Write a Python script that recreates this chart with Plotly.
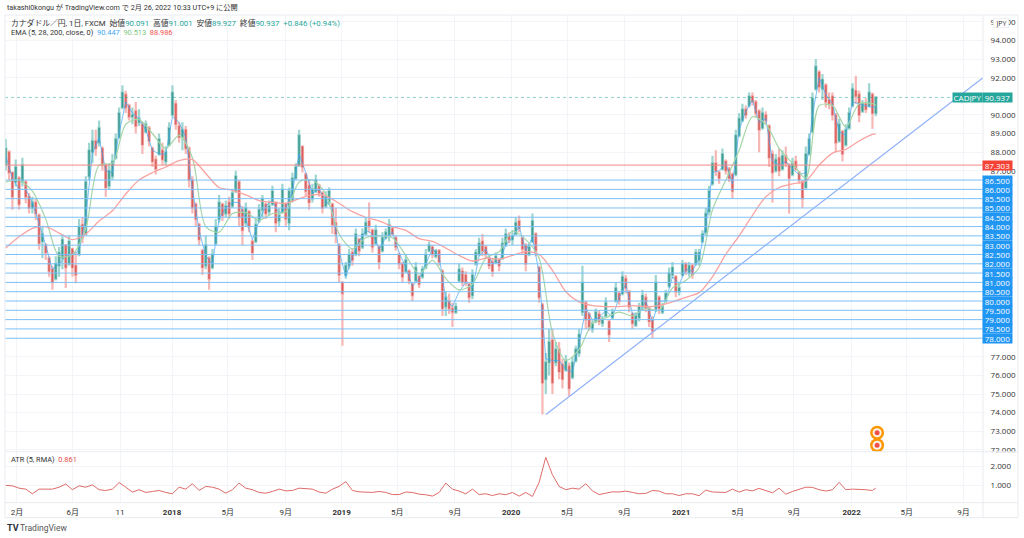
import pandas as pd
import plotly.graph_objects as go

# ---------- data ----------
opens = [87.3,88.0,86.9,86.4,86.6,86.4,86.4,85.6,85.0,85.3,84.6,83.2,83.0,82.3,81.7,81.2,81.9,82.3,83.0,82.0,
82.8,81.9,82.5,84.1,83.6,86.7,88.0,88.6,88.5,88.2,87.3,86.2,86.7,87.7,88.8,90.4,91.1,90.5,89.9,90.2,
89.6,89.5,89.1,89.3,88.2,87.6,87.9,88.1,87.5,88.4,90.0,90.6,89.4,88.8,89.2,88.2,86.5,85.2,84.1,82.7,
81.9,82.3,81.8,83.1,84.4,85.2,84.7,85.3,85.1,85.9,86.4,84.9,84.2,84.8,83.2,83.2,84.3,84.9,85.2,84.8,
85.2,85.3,84.3,84.8,85.2,84.2,85.4,86.6,87.3,88.3,86.8,86.2,85.5,85.9,86.2,85.8,85.1,85.3,85.2,84.2,
83.0,81.0,81.4,81.9,82.6,82.5,83.3,82.9,83.6,84.3,83.8,83.1,82.9,82.7,83.4,83.5,83.9,83.4,82.5,82.0,
81.6,81.6,80.9,81.1,81.3,81.3,81.8,82.7,82.9,82.4,82.7,81.6,79.7,80.0,79.6,79.4,81.1,81.6,81.4,80.9,
80.3,82.0,82.5,83.2,82.9,82.3,82.1,82.1,82.2,82.3,83.0,83.5,83.3,83.6,84.3,83.4,83.0,82.5,83.2,83.6,
81.8,79.8,75.8,76.7,77.9,76.7,77.4,76.6,76.3,76.5,75.9,76.8,77.2,79.4,79.9,79.3,78.5,78.9,79.3,78.8,
79.2,78.9,79.1,80.0,80.4,80.4,81.2,80.5,79.3,78.7,79.1,79.7,80.2,79.6,79.0,79.6,80.2,79.4,80.0,80.8,
81.4,81.3,80.5,81.4,82.0,81.5,81.9,82.0,82.2,83.2,83.7,84.8,86.3,87.4,86.9,87.1,87.5,87.1,86.8,86.8,
88.9,89.7,90.3,90.5,91.0,90.7,90.2,89.3,90.0,89.4,87.9,87.0,87.7,87.1,87.8,87.3,86.8,87.5,86.9,86.4,
86.1,87.9,89.1,91.4,92.3,91.4,91.6,90.8,91.0,90.0,88.6,89.1,88.4,89.3,90.5,91.3,91.1,90.2,90.6,90.5,
91.1,90.09]
highs = [88.7,88.1,86.9,87.6,86.7,87.7,86.5,85.8,85.6,85.5,84.7,84.0,83.1,82.4,81.9,82.4,82.9,83.6,83.0,83.5,
82.8,82.6,84.4,84.5,86.7,88.5,89.2,89.2,89.7,88.3,87.4,87.4,87.9,89.0,90.4,91.6,91.3,90.6,90.4,90.7,
90.3,89.6,89.7,89.4,88.3,87.8,89.0,88.5,88.3,89.6,91.6,90.8,89.6,89.6,89.4,88.3,86.7,85.3,84.2,82.8,
83.5,82.4,82.8,84.4,85.7,85.3,85.4,85.6,86.0,87.0,86.5,85.1,85.3,84.9,83.3,84.4,85.2,85.7,85.3,85.4,
86.2,85.3,85.0,86.3,85.3,86.1,86.9,87.4,89.2,88.3,86.9,86.5,86.3,86.8,86.3,85.9,85.9,86.1,85.3,85.0,
83.1,81.0,82.1,82.8,82.8,83.9,83.4,83.9,84.5,85.3,83.9,84.1,83.0,83.7,83.9,84.4,84.0,83.5,82.6,82.1,
82.5,81.7,81.0,82.1,81.4,81.9,82.8,83.2,83.0,82.8,82.8,81.7,80.5,80.4,79.9,79.9,82.0,81.8,81.6,81.0,
81.7,82.8,83.4,83.6,83.0,82.4,82.3,82.6,82.3,83.4,83.9,83.7,83.8,84.5,84.6,83.5,83.1,83.1,84.7,83.7,
81.9,79.9,77.2,78.5,78.5,77.8,77.8,76.9,77.1,76.7,77.0,77.6,78.5,81.9,80.0,79.4,79.0,79.6,79.5,79.2,
80.2,79.0,79.6,81.0,80.5,81.6,81.4,80.6,79.4,79.4,79.9,80.6,80.4,79.7,79.2,81.4,80.3,79.9,80.6,81.8,
82.1,81.4,80.9,82.2,82.1,82.1,82.0,82.8,82.8,83.8,85.0,86.2,87.8,88.1,87.0,88.2,87.6,87.2,86.9,89.2,
90.1,90.6,90.5,91.2,91.2,90.8,90.3,90.4,90.2,89.5,88.1,87.9,88.2,88.1,88.3,87.4,87.7,87.8,87.0,86.5,
88.3,89.0,91.2,93.0,92.4,92.2,91.7,91.2,91.2,90.1,89.8,89.2,89.5,90.4,91.7,92.1,91.3,90.8,90.9,91.7,
91.2,91.0]
lows = [87.0,86.5,84.9,86.15,84.9,86.15,85.25,84.7,84.7,84.35,82.75,82.3,82.2,81.3,80.6,81.1,81.3,81.7,80.7,81.9,
81.3,80.95,82.4,83.1,83.5,86.5,87.4,87.8,88.3,87.0,85.6,86.0,86.5,87.6,88.7,90.3,90.1,89.7,89.5,89.0,
89.4,87.9,89.0,88.3,87.2,86.8,87.8,87.3,87.3,88.3,89.9,89.2,88.5,88.1,87.9,86.1,84.7,84.0,83.0,81.4,
81.7,80.6,81.7,83.0,84.2,84.3,84.5,84.4,85.0,85.8,84.0,83.0,84.0,83.7,82.2,83.1,84.2,84.5,84.4,84.6,
85.1,83.7,84.0,84.7,84.0,83.8,85.3,86.5,87.2,86.9,85.6,84.9,85.3,85.8,85.6,84.7,85.0,85.2,83.6,83.1,
81.0,77.6,81.2,81.7,81.9,82.4,82.4,82.8,83.5,83.7,82.6,83.0,81.7,82.6,83.3,83.2,83.5,82.7,81.7,81.0,
81.5,80.9,80.0,81.0,80.7,81.2,81.7,82.6,82.3,82.3,81.9,79.2,79.2,79.3,78.6,79.3,81.0,80.8,80.8,79.9,
80.1,81.9,82.4,82.4,82.3,81.7,81.3,82.0,81.6,82.2,82.9,83.1,83.0,83.5,83.7,82.5,81.6,82.4,83.1,82.4,
79.9,73.9,75.0,76.0,75.0,76.5,75.8,75.3,76.2,74.9,75.8,76.7,77.0,79.2,78.5,78.4,78.3,78.8,78.7,78.6,
79.1,77.8,79.0,79.9,79.8,80.3,80.4,79.4,78.5,78.6,78.9,79.5,79.4,78.6,78.0,79.4,79.3,79.3,79.9,80.7,
81.2,80.2,80.3,81.3,81.4,81.3,81.2,81.9,81.9,83.1,83.5,84.6,86.2,86.7,86.3,87.0,86.8,86.4,85.5,86.7,
88.8,89.6,89.8,90.4,90.5,89.9,88.0,89.2,89.5,87.2,85.3,86.9,86.7,87.0,87.2,84.7,86.7,87.0,86.3,85.0,
86.0,87.8,89.0,91.3,91.2,90.8,90.4,90.3,89.7,88.0,88.5,87.5,88.3,89.2,90.4,90.6,89.6,90.1,90.1,90.4,
89.25,89.93]
closes = [88.2,86.9,85.6,87.2,85.2,87.3,85.6,85.0,85.3,84.7,83.1,83.6,82.6,81.6,81.0,82.0,82.6,83.3,81.8,83.2,
81.8,81.4,84.0,83.4,86.4,88.1,88.6,88.2,89.3,87.3,86.1,87.0,87.5,88.7,90.1,91.2,90.4,89.9,90.0,89.4,
89.8,88.4,89.5,88.6,87.5,87.1,88.7,87.6,88.0,89.3,91.2,89.5,88.8,89.2,88.2,86.5,85.0,84.4,83.3,81.8,
83.0,81.2,82.5,84.0,85.3,84.6,85.1,84.7,85.8,86.7,84.5,83.8,85.0,84.0,82.6,84.1,84.9,85.5,84.7,85.1,
85.9,84.2,84.6,86.0,84.4,85.9,86.6,87.2,88.9,87.2,85.9,85.3,86.0,86.5,85.8,85.0,85.6,85.9,84.1,83.6,
81.4,80.4,81.9,82.5,82.2,83.6,82.7,83.6,84.2,84.0,82.9,83.8,82.1,83.4,83.7,84.1,83.6,82.9,82.0,81.3,
82.2,81.1,80.3,81.8,80.9,81.7,82.5,83.0,82.5,82.7,82.1,79.6,80.2,79.6,79.4,79.7,81.7,81.0,81.0,80.2,
81.4,82.6,83.1,82.7,82.5,81.9,81.6,82.4,81.9,83.1,83.6,83.3,83.5,84.2,83.9,82.8,82.0,82.9,84.3,82.7,
80.2,75.6,76.7,77.8,75.6,77.4,76.2,75.8,76.8,75.3,76.7,77.4,78.2,81.0,79.0,78.6,78.8,79.4,78.9,79.0,
79.9,78.2,79.4,80.7,80.0,81.3,80.7,79.7,78.8,79.2,79.7,80.3,79.6,78.9,78.4,81.0,79.6,79.7,80.4,81.5,
81.8,80.5,80.7,82.0,81.6,81.9,81.4,82.6,82.6,83.6,84.7,85.9,87.4,87.0,86.6,87.9,87.0,86.6,85.9,88.9,
89.8,90.3,90.0,91.0,90.7,90.1,89.2,90.1,89.7,87.7,86.9,87.6,87.0,87.8,87.4,86.6,87.4,87.1,86.5,85.5,
87.9,88.7,90.9,92.6,91.5,91.9,90.7,90.6,90.0,88.5,89.5,87.9,89.2,90.1,91.4,91.0,90.0,90.6,90.3,91.2,
90.09,90.94]

ema5 = [87.8,86.6,86.0,86.0,85.3,84.2,83.0,81.7,82.0,82.4,82.5,82.7,84.5,87.9,88.8,87.0,86.9,89.0,90.7,90.1,
89.8,89.2,88.1,87.9,87.9,89.9,89.6,88.8,86.0,83.8,82.4,82.0,84.4,85.0,85.3,85.3,84.4,83.3,84.3,85.1,
85.4,84.7,85.0,85.9,87.9,86.9,85.8,86.0,85.4,84.9,82.7,81.3,82.4,83.2,83.8,83.6,82.8,83.4,83.7,82.6,
81.8,80.8,81.2,82.0,82.8,82.4,80.1,79.7,80.5,81.0,80.7,82.4,82.8,82.0,82.1,83.0,83.4,84.0,82.7,83.4,
81.5,76.9,76.8,76.8,76.3,76.2,77.7,79.6,79.0,79.1,79.5,79.1,80.2,80.9,79.3,79.3,80.0,78.9,80.0,80.0,
81.3,80.9,81.7,81.6,82.3,84.1,86.9,87.0,87.4,86.3,89.2,90.2,90.8,89.6,89.8,87.5,87.3,87.5,87.1,86.8,
86.9,90.0,92.0,91.1,90.6,89.1,88.9,90.7,90.6,90.5,90.4,90.447]
ema28 = [86.4,86.5,85.9,84.4,82.4,82.5,83.9,87.3,87.4,89.5,89.75,89.0,88.2,88.9,87.7,84.0,83.7,84.7,84.75,84.35,
84.7,84.8,86.4,86.5,85.75,83.6,82.8,83.4,83.5,83.4,82.45,81.45,82.2,81.2,80.6,80.9,82.3,82.65,83.75,83.3,
82.3,78.3,76.8,77.4,78.8,79.1,79.4,79.2,79.6,79.5,80.7,81.1,81.8,84.9,86.5,88.1,89.9,89.5,88.2,87.4,
86.6,90.5,90.5,89.35,90.6,90.6,90.513]
ema200 = [82.85,83.45,83.9,84.0,83.65,83.3,83.6,84.3,84.85,85.75,86.5,86.9,87.2,87.55,87.6,86.85,86.1,85.95,85.7,85.4,
85.3,85.25,85.5,85.7,85.65,85.25,84.8,84.5,84.3,84.0,83.8,83.35,83.2,82.85,82.45,82.15,82.3,82.25,82.45,82.65,
82.5,81.65,80.5,79.95,79.75,79.7,79.7,79.75,79.7,79.75,79.95,80.2,80.45,81.3,82.5,83.5,84.6,85.6,86.1,86.3,
86.45,87.3,87.95,88.15,88.6,88.95,88.986]
atr = [1.0,.98,.86,.81,.57,.81,.81,.81,.91,1.07,.78,.98,.91,1.03,.78,.74,.81,1.15,.91,.66,
.78,.64,.69,.74,.64,.57,.91,.81,1.09,.74,.95,.91,.81,.6,.78,1.12,.86,.78,.64,.6,
.69,.81,.72,.74,.86,.84,.81,.66,.6,.81,.95,1.2,.74,.67,.66,.64,.69,.64,.53,.53,
.66,.64,.55,.52,.45,.64,1.12,.81,.71,.57,.81,.53,.57,.48,.57,.52,.64,.45,.64,.43,
1.16,2.45,1.55,.95,.78,.86,.81,1.09,.72,.53,.6,.67,.66,.71,.64,.57,.59,.74,.71,.57,
.57,.48,.57,.57,.47,.76,.66,.66,.64,.81,.66,.78,.72,.85,.74,.62,.86,.55,.69,.78,
.91,.9,.78,.71,.78,1.16,.78,.81,.81,.78,.74,.861]

levels = [78.0,78.5,79.0,79.5,80.0,80.5,81.0,81.5,82.0,82.5,83.0,83.5,84.0,84.5,85.0,85.5,86.0,86.5]
resistance = 87.303
last_price = 90.937
trend_dates = ["2020-03-16","2022-10-13"]
trend_values = [73.9,92.0]
event_dates = ["2022-02-27","2022-02-27"]
event_values = [72.92,72.25]
price_ticks = [72,73,74,75,76,77,87,88,89,90,92,93,94,95]
atr_ticks = [1,2]
time_ticks = ["2017-02-01","2017-06-01","2017-09-11","2018-01-01","2018-05-01","2018-09-03","2019-01-01","2019-05-01",
              "2019-09-02","2020-01-01","2020-05-01","2020-09-01","2021-01-01","2021-05-03","2021-09-01","2022-01-03",
              "2022-05-02","2022-09-01"]
time_labels = ["2月","6月","11","<b>2018</b>","5月","9月","<b>2019</b>","5月","9月","<b>2020</b>","5月","9月",
               "<b>2021</b>","5月","9月","<b>2022</b>","5月","9月"]

dates = list(pd.date_range("2017-01-08", periods=len(closes), freq=pd.Timedelta(hours=172.25)))
even_dates = dates[::2] + [dates[-1]]
step4_dates = dates[::4] + [dates[-1]]
body_tops = [max(o, c) for o, c in zip(opens, closes)]
body_bottoms = [min(o, c) for o, c in zip(opens, closes)]

# ---------- style ----------
W, H = 1024, 538
SY = 1.005
FONT = "Roboto, Noto Sans CJK JP, sans-serif"
NUMFONT = "Open Sans, sans-serif"
GRID = "#f3f4f7"
FRAME = "#e8ebf0"
TEAL = "#26a69a"
RED = "#ef5350"
BLUE = "#2196f3"
def fx(x): return x / W
def fy(y): return 1 - y * SY / H

fig = go.Figure()
# wider, light wicks first, darker narrow bodies over them
fig.add_trace(go.Candlestick(x=dates, open=opens, high=highs, low=lows, close=closes, xaxis="x", yaxis="y",
    increasing=dict(line=dict(color="#9dd5d0", width=2.2), fillcolor="#9dd5d0"),
    decreasing=dict(line=dict(color="#f6b7b5", width=2.2), fillcolor="#f6b7b5"),
    whiskerwidth=0))
fig.add_trace(go.Scatter(x=even_dates, y=ema5, mode="lines", line=dict(color="rgba(66,165,245,0.7)", width=1), xaxis="x", yaxis="y"))
fig.add_trace(go.Candlestick(x=dates, open=opens, high=body_tops, low=body_bottoms, close=closes, xaxis="x", yaxis="y",
    increasing=dict(line=dict(color="#3f9c94", width=0.6), fillcolor="#3f9c94"),
    decreasing=dict(line=dict(color="#d95f5c", width=0.6), fillcolor="#d95f5c"),
    whiskerwidth=0))
fig.add_trace(go.Scatter(x=step4_dates, y=ema28, mode="lines", line=dict(color="#a5d6a7", width=1.2, shape="spline", smoothing=0.8), xaxis="x", yaxis="y"))
fig.add_trace(go.Scatter(x=step4_dates, y=ema200, mode="lines", line=dict(color="#f9a3a1", width=1.3, shape="spline", smoothing=0.8), xaxis="x", yaxis="y"))
fig.add_trace(go.Scatter(x=trend_dates, y=trend_values, mode="lines", line=dict(color="#8fb0fa", width=1.2), xaxis="x", yaxis="y"))
for size, color in ((14, "#ff9800"), (9, "#fdf3e6"), (5, "#f0504a")):
    fig.add_trace(go.Scatter(x=event_dates, y=event_values, mode="markers",
                             marker=dict(size=size, color=color, line=dict(width=0)), xaxis="x", yaxis="y"))
fig.add_trace(go.Scatter(x=even_dates, y=atr, mode="lines", line=dict(color="#dd6b68", width=1), xaxis="x2", yaxis="y2"))

shapes = []
for lv in levels:
    shapes.append(dict(type="line", xref="paper", yref="y", x0=fx(5), x1=fx(983), y0=lv, y1=lv, layer="above",
                       line=dict(color="#7cc0f7", width=1)))
shapes.append(dict(type="line", xref="paper", yref="y", x0=fx(5), x1=fx(983), y0=resistance, y1=resistance, layer="above",
                   line=dict(color="#f28a86", width=1)))
shapes.append(dict(type="line", xref="paper", yref="y", x0=fx(5), x1=fx(953), y0=last_price, y1=last_price, layer="above",
                   line=dict(color="rgba(38,166,154,0.5)", width=1, dash="dot")))
shapes.append(dict(type="rect", xref="paper", yref="paper", x0=fx(984), x1=fx(1017), y0=fy(456), y1=fy(452.5), layer="above",
                   fillcolor="white", line=dict(width=0)))
for x0, y0, x1, y1 in ((5, 15, 1018, 15), (5, 518, 1018, 518), (5, 15, 5, 518), (1018, 15, 1018, 518),
                       (983, 15, 983, 518), (5, 452, 1018, 452), (5, 503, 1018, 503)):
    shapes.append(dict(type="line", xref="paper", yref="paper", x0=fx(x0), x1=fx(x1), y0=fy(y0), y1=fy(y1), layer="above",
                       line=dict(color=FRAME, width=1)))

anns = []
def text(x, y, s, size=8, color="#333", anchor="left"):
    anns.append(dict(xref="paper", yref="paper", x=fx(x), y=fy(y), text=s, showarrow=False, xanchor=anchor, yanchor="middle",
                     font=dict(size=size, color=color, family=FONT), borderpad=0, align="left"))
def box(xc, w, yval, s, bg, h=9.3):
    anns.append(dict(xref="paper", yref="y", x=fx(xc), y=yval, text=s, showarrow=False, xanchor="center", yanchor="middle",
                     width=w, height=h, bgcolor=bg, borderpad=0, font=dict(size=8, color="white", family=NUMFONT)))

text(6, 8, "takashi0kongu が TradingView.com で 2月 26, 2022 10:33 UTC+9 に公開", 7.2)
text(10, 23, 'カナダドル／円, 1日, FXCM  始値<span style="color:#26a69a">90.091</span>  高値<span style="color:#26a69a">91.001</span>  '
             '安値<span style="color:#26a69a">89.927</span>  終値<span style="color:#26a69a">90.937</span>  '
             '<span style="color:#26a69a">+0.846 (+0.94%)</span>', 7.8)
text(10, 32.5, 'EMA (5, 28, 200, close, 0)  <span style="color:#42a5f5">90.447</span>  <span style="color:#81c784">90.513</span>  '
               '<span style="color:#ef5350">88.986</span>', 7.4)
text(10, 460, 'ATR (5, RMA)  <span style="color:#e04b48">0.861</span>', 7.4)
text(6, 528, "<b>TV</b>", 9, "#2a2e39")
text(19, 528, "TradingView", 8.5, "#555")
for lv in levels:
    box(997.5, 29, lv, f"{lv:.3f}", BLUE)
box(997.5, 29, resistance, f"{resistance:.3f}", "#f44336")
box(997.5, 29, last_price, f"{last_price:.3f}", TEAL)
box(967.5, 29, last_price, "CADJPY", TEAL)
anns.append(dict(xref="paper", yref="paper", x=fx(1000.5), y=fy(23), text="JPY", showarrow=False, xanchor="center", yanchor="middle",
                 width=15, height=9, bgcolor="white", bordercolor="#e0e3eb", borderwidth=0.5, borderpad=0,
                 font=dict(size=7, color="#333", family=NUMFONT)))

axis_common = dict(showline=False, zeroline=False, showgrid=True, gridcolor=GRID, gridwidth=1)
x_range = ["2017-01-06 09:36", "2022-10-13"]
fig.update_layout(
    width=W, height=H, margin=dict(l=0, r=0, t=0, b=0), paper_bgcolor="white", plot_bgcolor="white",
    showlegend=False, boxgap=0.5, boxmode="overlay", font=dict(family=NUMFONT, size=8, color="#333"),
    shapes=shapes, annotations=anns,
    xaxis=dict(domain=[fx(5), fx(983)], anchor="y", type="date", range=x_range, tickvals=time_ticks, ticktext=time_labels,
               showticklabels=False, ticks="", rangeslider=dict(visible=False), **axis_common),
    xaxis2=dict(domain=[fx(5), fx(983)], anchor="y2", type="date", range=x_range, tickvals=time_ticks, ticktext=time_labels,
                ticks="outside", ticklen=2, tickcolor="rgba(0,0,0,0)", tickfont=dict(size=8, color="#333", family=FONT), **axis_common),
    yaxis=dict(domain=[fy(452), fy(15)], anchor="x", side="right", range=[71.9, 95.37], tickvals=price_ticks,
               ticktext=[f"{v:.3f}" for v in price_ticks], ticks="outside", ticklen=5, tickcolor="rgba(0,0,0,0)",
               tickfont=dict(size=8, color="#333"), **axis_common),
    yaxis2=dict(domain=[fy(503), fy(452)], anchor="x2", side="right", range=[0.11, 2.74], tickvals=atr_ticks,
                ticktext=[f"{v:.3f}" for v in atr_ticks], ticks="outside", ticklen=5, tickcolor="rgba(0,0,0,0)",
                tickfont=dict(size=8, color="#333"), **axis_common),
)
fig.write_html("out.html", config=dict(displayModeBar=False),
               post_script="document.body.style.margin='0';document.body.style.overflow='hidden';")
